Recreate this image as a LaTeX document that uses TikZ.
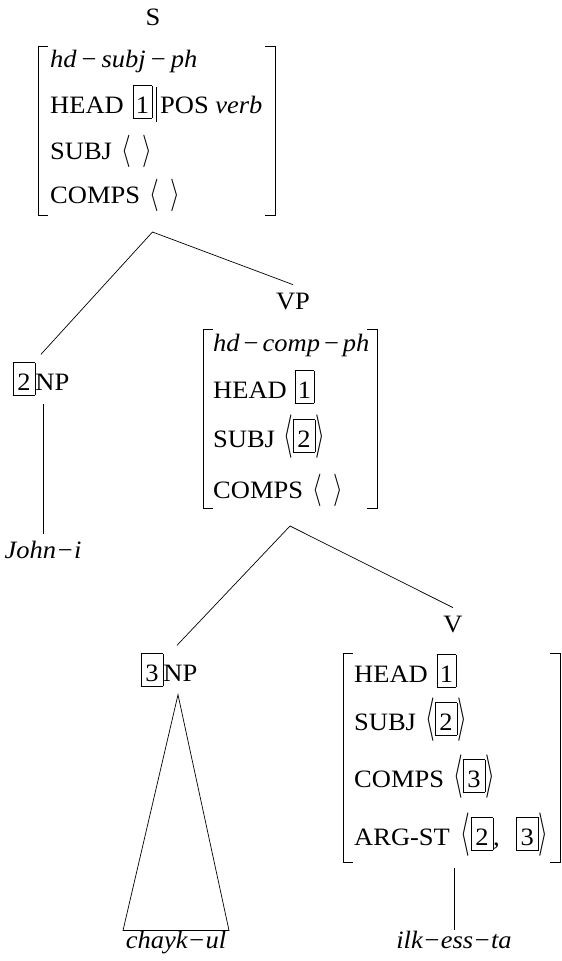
\documentclass[tikz,border=0pt]{standalone}
\usepackage{fontspec}
\usepackage{graphicx}
\setmainfont{Liberation Serif}[FakeStretch=1.06]
\usetikzlibrary{calc}
\newcommand\tgbox[2]{{\setlength{\fboxsep}{0pt}\setlength{\fboxrule}{0.7pt}\fbox{\rule[-5pt]{0pt}{32pt}\hspace{#1}#2\hspace{#1}}}}
\newcommand\tg[1]{\tgbox{2.5pt}{#1}}
\newcommand\tgw[1]{\tgbox{4pt}{#1}}
\newcommand\avl[1]{\scalebox{1}[#1]{$\langle$}}
\newcommand\avr[1]{\scalebox{1}[#1]{$\rangle$}}
\newcommand\mns[1]{\hspace{#1}{\upshape −}\hspace{#1}}
\newcommand\avmbr[1]{%
 \draw[avmline] ([xshift=10pt]#1.north west) -- (#1.north west) -- (#1.south west) -- ([xshift=10pt]#1.south west);
 \draw[avmline] ([xshift=-10pt]#1.north east) -- (#1.north east) -- (#1.south east) -- ([xshift=-10pt]#1.south east);}
\tikzset{
 every node/.style={font=\fontsize{25}{30}\selectfont, inner sep=0pt},
 row/.style={anchor=base west},
 cat/.style={anchor=base, outer ysep=8pt},
 word/.style={anchor=base, font=\fontsize{25}{30}\selectfont\itshape},
 avmbox/.style={draw=none, outer sep=0pt},
 avmline/.style={line width=0.8pt},
 tree/.style={line width=0.7pt}
}
\begin{document}
\begin{tikzpicture}[x=1pt,y=-1pt]
\useasboundingbox (0,0) rectangle (562,961);
% S
\node[cat] (S) at (153,25) {S};
\node[avmbox, minimum width=237pt, minimum height=169pt] (Savm) at (156.5,130.5) {};
\avmbr{Savm}
\node[row] (s1) at (50,67) {\itshape hd\mns{5pt}subj\mns{5pt}ph};
\node[row] (s2) at (50,113) {HEAD\hspace{9pt}\tg{1}\hspace{4pt}\rule[-9pt]{0.7pt}{35pt}\hspace{3pt}POS \textit{verb}};
\node[row] (s3) at (50,159) {SUBJ\hspace{9pt}\avl{1.3}\hspace{12pt}\avr{1.3}};
\node[row] (s4) at (50,203) {COMPS\hspace{9pt}\avl{1.3}\hspace{12pt}\avr{1.3}};
% NP2
\node[cat] (NP2) at (41,390) {\tgw{2}NP};
\node[word] (John) at (43,558) {John−i};
% VP
\node[cat] (VP) at (293,309) {VP};
\node[avmbox, minimum width=174pt, minimum height=179pt] (VPavm) at (290,418.5) {};
\avmbr{VPavm}
\node[row] (v1) at (213,351) {\itshape hd\mns{4pt}comp\mns{4pt}ph};
\node[row] (v2) at (213,398) {HEAD\hspace{8pt}\tg{1}};
\node[row] (v3) at (213,447) {SUBJ\hspace{8pt}\avl{1.75}\tgw{2}\avr{1.75}};
\node[row] (v4) at (213,498) {COMPS\hspace{9pt}\avl{1.3}\hspace{12pt}\avr{1.3}};
% NP3
\node[cat] (NP3) at (169,681) {\tgw{3}NP};
\node[word] (chayk) at (176,948) {chayk−ul};
% V
\node[cat] (V) at (453,632) {V};
\node[avmbox, minimum width=217pt, minimum height=209pt] (Vavm) at (451.5,757.5) {};
\avmbr{Vavm}
\node[row] (w1) at (354,682) {HEAD\hspace{9pt}\tg{1}};
\node[row] (w2) at (354,730) {SUBJ\hspace{9pt}\avl{1.75}\tgw{2}\avr{1.75}};
\node[row] (w3) at (354,787) {COMPS\hspace{9pt}\avl{1.75}\tgw{3}\avr{1.75}};
\node[row] (w4) at (354,845) {ARG-ST\hspace{11pt}\avl{1.75}\tgw{2},\hspace{16pt}\tgw{3}\avr{1.75}};
\node[word] (ilk) at (454,948) {ilk−ess−ta};
% connectors
\coordinate (Sapex) at ($(Savm.south)+(-4,17)$);
\draw[tree] (NP2.north) -- (Sapex) -- (VP.north);
\draw[tree] (NP2.south -| John.north) -- ($(John.north)+(0,-6)$);
\coordinate (VPapex) at ($(VPavm.south)+(0,18)$);
\draw[tree] ($(NP3.north)+(8,0)$) -- (VPapex) -- (V.north);
\coordinate (tri) at ($(NP3.south)+(9,0)$);
\draw[tree] (tri) -- ($(chayk.north)+(-53,0)$) -- ($(chayk.north)+(53,0)$) -- cycle;
\draw[tree] ($(Vavm.south -| ilk.north)+(0,6)$) -- (ilk.north);
\end{tikzpicture}
\end{document}
